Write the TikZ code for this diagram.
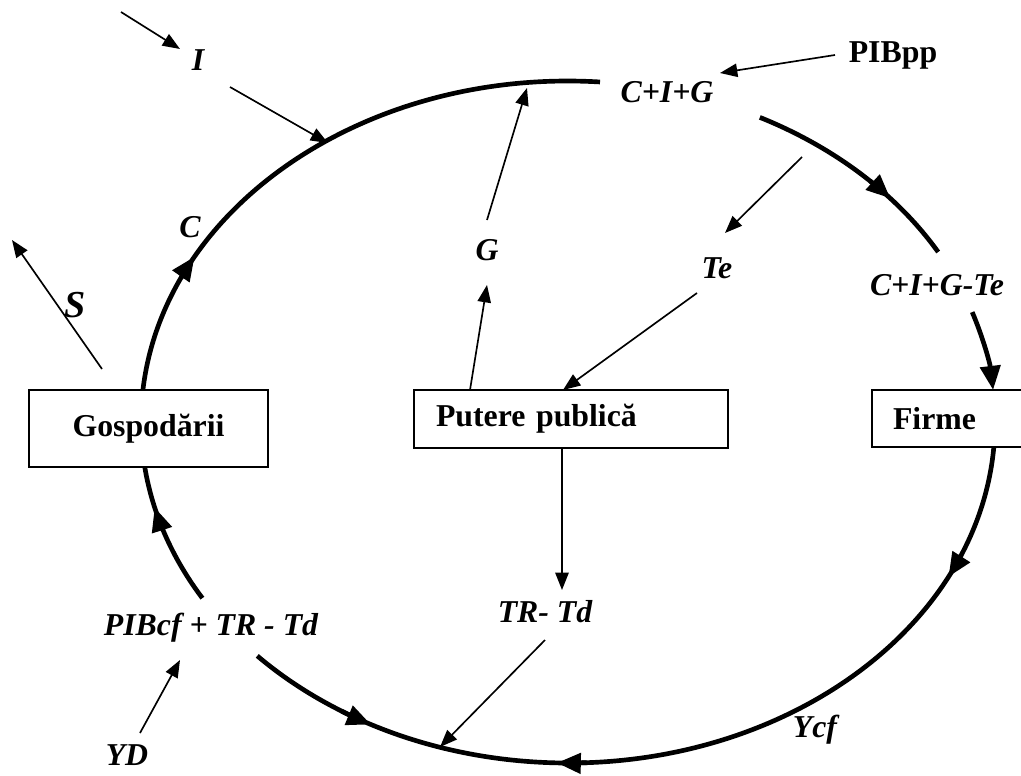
\documentclass[tikz,border=0pt]{standalone}
\usepackage{fontspec}
\setmainfont{Liberation Serif}
\usetikzlibrary{arrows.meta,calc}
\begin{document}
\begin{tikzpicture}[x=0.75pt,y=-0.75pt,
  lbl/.style={inner sep=0pt, font=\fontsize{23.85pt}{28pt}\selectfont\bfseries\itshape},
  ulbl/.style={inner sep=0pt, font=\fontsize{23.85pt}{28pt}\selectfont\bfseries},
  box/.style={draw, line width=1.5pt, fill=white, font=\fontsize{23.85pt}{28pt}\selectfont\bfseries},
  flow/.style={line width=3.5pt},
  thinarrow/.style={line width=1.25pt, -{Triangle[length=13pt,width=10pt]}},
  bigtip/.style={line width=3.5pt, -{Triangle[length=18pt,width=15pt]}},
  ell/.style={x radius=427, y radius=341},
]
\useasboundingbox (0,0) rectangle (1021,775);
\clip (0,0) rectangle (1021,775);
\coordinate (O) at (568,422);

% circular flow arcs
\draw[flow] ([shift={(O)}]185.4:427 and 341) arc[start angle=185.4, end angle=274.3, ell];
\draw[flow] ([shift={(O)}]296.7:427 and 341) arc[start angle=296.7, end angle=330.1, ell];
\draw[bigtip] ([shift={(O)}]341.2:427 and 341) arc[start angle=341.2, end angle=354.6, ell];
\draw[flow] ([shift={(O)}]4.2:427 and 341) arc[start angle=4.2, end angle=136.7, ell];
\draw[flow] ([shift={(O)}]148.9:427 and 341) arc[start angle=148.9, end angle=172.4, ell];

% arrowheads along the arcs
\draw[bigtip] ([shift={(O)}]205:427 and 341) arc[start angle=205, end angle=209, ell];
\draw[bigtip] ([shift={(O)}]315:427 and 341) arc[start angle=315, end angle=319, ell];
\draw[bigtip] ([shift={(O)}]23:427 and 341) arc[start angle=23, end angle=27, ell];
\draw[bigtip] ([shift={(O)}]87.5:427 and 341) arc[start angle=87.5, end angle=91.5, ell];
\draw[bigtip] ([shift={(O)}]122:427 and 341) arc[start angle=122, end angle=117.5, ell];
\draw[bigtip] ([shift={(O)}]161.5:427 and 341) arc[start angle=161.5, end angle=165.5, ell];

% boxes
\node[box, minimum width=179.25pt, minimum height=57.75pt] (gosp) at (148.5,428.5) {Gospodării};
\node[box, minimum height=43.5pt, text width=202.5pt, inner xsep=16.5pt, align=left] (pp) at (571,419) {Putere publică};
\node[box, minimum height=42.75pt, text width=109.5pt, inner xsep=15.75pt, align=left] (firme) at (966,418.5) {Firme};

% labels
\node[lbl] (lI) at (198,60) {I};
\node[lbl] (lC) at (190,227) {C};
\node[lbl, font=\fontsize{28.6pt}{32pt}\selectfont\bfseries\itshape] (lS) at (75,305) {S};
\node[lbl] (lG) at (487,250) {G};
\node[lbl] (lTe) at (717,268) {Te};
\node[lbl] (lCIG) at (667,92) {C+I+G};
\node[ulbl] (lPIBpp) at (893,55) {PIBpp};
\node[lbl] (lCIGTe) at (937,285) {C+I+G-Te};
\node[lbl] (lPIBcf) at (211,628) {PIBcf + TR - Td};
\node[lbl] (lYD) at (127,755) {YD};
\node[lbl] (lTRTd) at (545,612) {TR- Td};
\node[lbl] (lYcf) at (815,730) {Ycf};

% connector end points
\coordinate (iA) at (121,12);  \coordinate (iB) at (180,49);
\coordinate (iC) at (230,87);  \coordinate (iD) at (328,143);
\coordinate (sA) at (102,369); \coordinate (sB) at (12,240);
\coordinate (gA) at (470,390); \coordinate (gB) at (487,285);
\coordinate (gC) at (487,220); \coordinate (gD) at (527,88);
\coordinate (pA) at (835,55);  \coordinate (pB) at (720,73);
\coordinate (tA) at (802,157); \coordinate (tB) at (725,233);
\coordinate (tC) at (697,293); \coordinate (tD) at (563,390);
\coordinate (dA) at (562,448); \coordinate (dB) at (562,590);
\coordinate (rA) at (545,640); \coordinate (rB) at (440,747);
\coordinate (yA) at (140,733); \coordinate (yB) at (180,660);

\draw[thinarrow] (iA) -- (iB);
\draw[thinarrow] (iC) -- (iD);
\draw[thinarrow] (sA) -- (sB);
\draw[thinarrow] (gA) -- (gB);
\draw[thinarrow] (gC) -- (gD);
\draw[thinarrow] (pA) -- (pB);
\draw[thinarrow] (tA) -- (tB);
\draw[thinarrow] (tC) -- (tD);
\draw[thinarrow] (dA) -- (dB);
\draw[thinarrow] (rA) -- (rB);
\draw[thinarrow] (yA) -- (yB);
\end{tikzpicture}
\end{document}
